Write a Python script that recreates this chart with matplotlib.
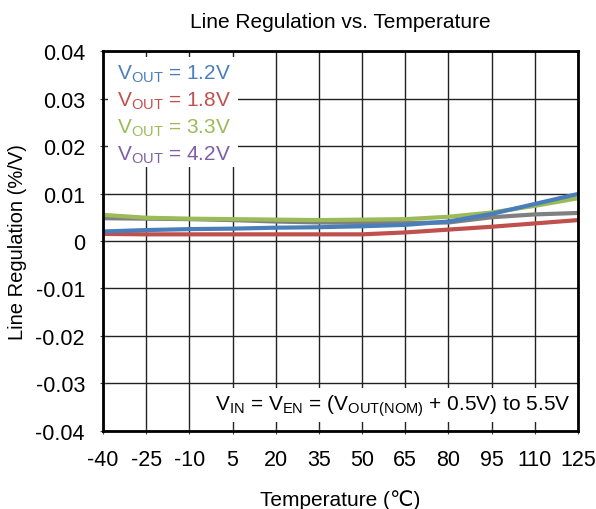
import matplotlib.pyplot as plt
from matplotlib.patches import Rectangle

plt.rcParams['font.family'] = ['Liberation Sans', 'DejaVu Sans']
plt.rcParams['mathtext.fontset'] = 'custom'
plt.rcParams['mathtext.rm'] = 'Liberation Sans'
plt.rcParams['mathtext.it'] = 'Liberation Sans'
plt.rcParams['axes.unicode_minus'] = False

temps = [-40, -25, -10, 5, 20, 35, 50, 65, 80, 95, 110, 125]
v12 = [0.0020, 0.0023, 0.0025, 0.0026, 0.0028, 0.0029, 0.0031, 0.0034, 0.0041, 0.0057, 0.0078, 0.0099]
v18 = [0.0015, 0.0014, 0.0014, 0.0014, 0.0014, 0.0014, 0.0014, 0.0018, 0.0024, 0.0030, 0.0037, 0.0044]
v33 = [0.0055, 0.0049, 0.0047, 0.0046, 0.0045, 0.0044, 0.0045, 0.0046, 0.0051, 0.0060, 0.0074, 0.0090]
v42 = [0.0048, 0.0047, 0.0046, 0.0044, 0.0041, 0.0039, 0.0038, 0.0038, 0.0039, 0.0050, 0.0056, 0.0059]

labels = ['1.2V', '1.8V', '3.3V', '4.2V']
line_colors = ['#4a7ebb', '#c0504d', '#9bbb59', '#808080']
text_colors = ['#4a7ebb', '#c0504d', '#9bbb59', '#7f5fa6']

fig = plt.figure(figsize=(5.96, 5.10), dpi=100)
ax = fig.add_axes([0.1728, 0.153, 0.797, 0.745])

ax.plot(temps, v42, color=line_colors[3], lw=3)
ax.plot(temps, v33, color=line_colors[2], lw=3)
ax.plot(temps, v18, color=line_colors[1], lw=3)
ax.plot(temps, v12, color=line_colors[0], lw=3)

ax.set_xlim(-40, 125)
ax.set_ylim(-0.04, 0.04)
ax.set_xticks(temps)
ax.set_yticks([-0.04, -0.03, -0.02, -0.01, 0, 0.01, 0.02, 0.03, 0.04])
ax.set_yticklabels(['-0.04', '-0.03', '-0.02', '-0.01', '0', '0.01', '0.02', '0.03', '0.04'])
ax.grid(True, color='#222222', lw=1)
ax.tick_params(labelsize=15.5, length=4, direction='inout', color='#444444', pad=11)
for s in ax.spines.values():
    s.set_linewidth(2)
    s.set_color('black')

ax.set_title('Line Regulation vs. Temperature', fontsize=15, pad=17)
ax.set_xlabel('Temperature (\u2103)', fontsize=15, labelpad=14)
ax.set_ylabel('Line Regulation (%/V)', fontsize=14.5, labelpad=6)

# white box behind the legend text
ax.add_patch(Rectangle((0.011, 0.695), 0.273, 0.289, transform=ax.transAxes,
                       facecolor='white', edgecolor='none', zorder=2.5))
for i, (lab, c) in enumerate(zip(labels, text_colors)):
    ax.text(0.03, 0.94 - i * 0.071, r'V$_{\mathrm{OUT}}$ = ' + lab, color=c,
            fontsize=15, transform=ax.transAxes, va='center', ha='left', zorder=3)

ax.text(0.985, 0.068, r'V$_{\mathrm{IN}}$ = V$_{\mathrm{EN}}$ = (V$_{\mathrm{OUT(NOM)}}$ + 0.5V) to 5.5V',
        fontsize=15, transform=ax.transAxes, ha='right', va='center', zorder=3,
        bbox=dict(facecolor='white', edgecolor='none', pad=3))

plt.savefig('out.png', dpi=100)
